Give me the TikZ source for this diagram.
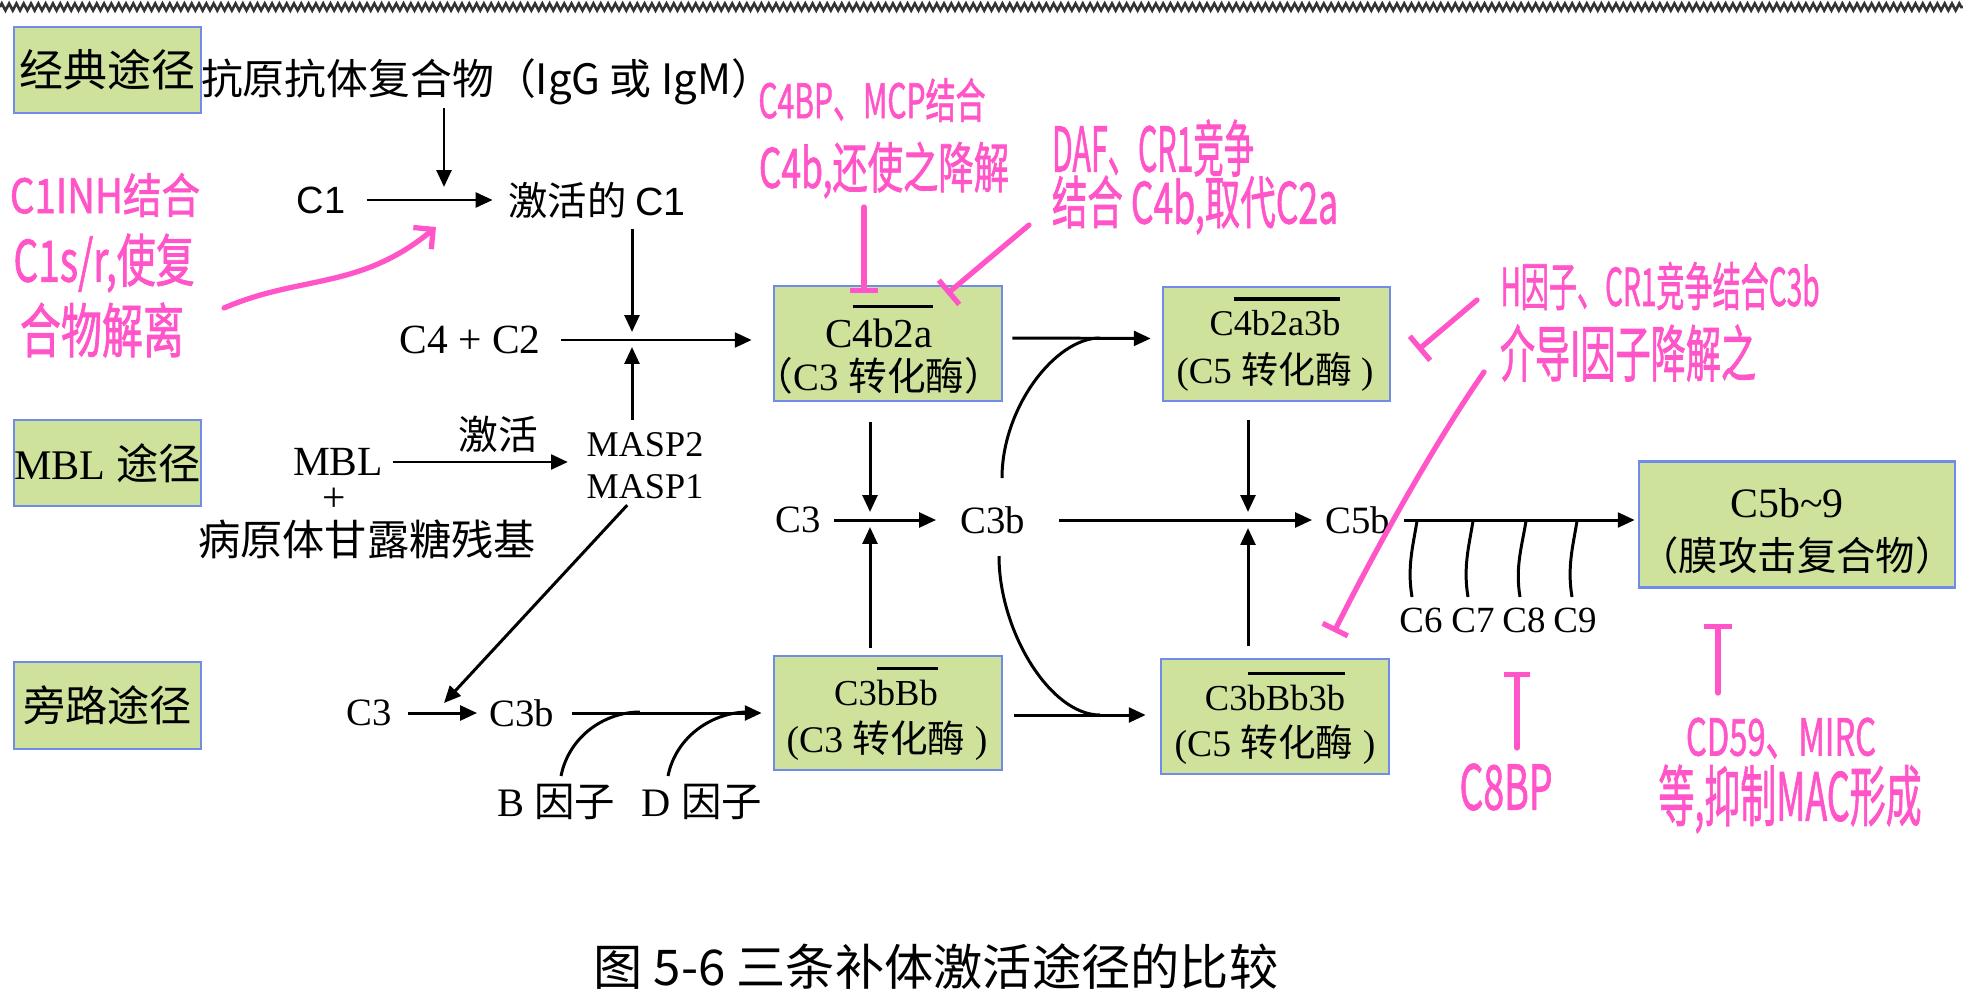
\documentclass[tikz,border=0pt]{standalone}
\usepackage{fontspec}
\usepackage{graphicx}
\setmainfont{Liberation Serif}
\newfontfamily\cjk{Noto Sans CJK SC}
\newfontfamily\hand[FakeBold=1.5]{Noto Sans CJK SC}
\newfontfamily\arial{Liberation Sans}
\usetikzlibrary{arrows.meta,decorations.pathmorphing}
\definecolor{boxgreen}{RGB}{206,226,156}
\definecolor{boxblue}{RGB}{112,140,232}
\definecolor{pinkhw}{RGB}{255,85,200}
\newsavebox\ovbox
\newcommand\ovl[1]{\sbox\ovbox{#1}\rlap{\rule[0.95em]{\wd\ovbox}{0.9pt}}\usebox\ovbox}
\newcommand\zh[1]{{\cjk #1}}
\newcommand\fs[1]{\fontsize{#1}{#1}\selectfont}
\newcommand\hw[3]{\resizebox{#1}{#2}{\hand #3}}
\begin{document}
\begin{tikzpicture}[x=0.01cm,y=-0.01cm,
  pbox/.style={draw=boxblue, fill=boxgreen, line width=0.7pt, inner sep=0pt},
  lbl/.style={inner sep=0pt},
  arr/.style={line width=0.85pt, -{Triangle[length=4.8pt,width=4.2pt]}},
  ln/.style={line width=0.85pt},
  pk/.style={draw=pinkhw, line width=1.5pt, line cap=round},
  pkbar/.style={pk, -{Bar[width=8pt]}},
  hwn/.style={inner sep=0pt, text=pinkhw},
  zz/.style={decorate, decoration={zigzag, segment length=0.073cm, amplitude=0.035cm}, line width=0.75pt, black!80}]
\fill[white] (0,0) rectangle (1963,1000);
\useasboundingbox (0,0) rectangle (1963,1000);
\draw[zz] (0,7) -- (1963,7);

% pathway boxes
\node[pbox, minimum width=1.87cm, minimum height=0.86cm] (p1) at (107.5,70) {\fs{12.5}\cjk 经典途径};
\node[pbox, minimum width=1.87cm, minimum height=0.86cm] (p2) at (107.5,463) {\fs{12}MBL \zh{途径}};
\node[pbox, minimum width=1.87cm, minimum height=0.87cm] (p3) at (107.5,705.5) {\fs{12}\cjk 旁路途径};

% enzyme boxes
\node[pbox, minimum width=2.28cm, minimum height=1.15cm] (b1) at (888,343.5) {};
\node[pbox, minimum width=2.27cm, minimum height=1.14cm] (b2) at (1276.5,344) {};
\node[pbox, minimum width=2.28cm, minimum height=1.14cm] (b3) at (888,713) {};
\node[pbox, minimum width=2.28cm, minimum height=1.15cm] (b4) at (1275,716.5) {};
\node[pbox, minimum width=3.16cm, minimum height=1.26cm] (b5) at (1797,524.5) {};

\node[lbl, anchor=base, font=\fs{11.7}] (b1a) at (879,347) {C\ovl{4b2a}};
\node[lbl, anchor=base, font=\fs{11}] (b1b) at (879,390) {\zh{（}C3 \zh{转化酶）}};
\node[lbl, anchor=base, font=\fs{10.3}] (b2a) at (1275,335) {C\ovl{4b2a3b}};
\node[lbl, anchor=base, font=\fs{10.5}] (b2b) at (1275,383) {(C5 \zh{转化酶} )};
\node[lbl, anchor=base, font=\fs{10.4}] (b3a) at (886,705) {C3\ovl{bBb}};
\node[lbl, anchor=base, font=\fs{10.7}] (b3b) at (887,752) {(C3 \zh{转化酶} )};
\node[lbl, anchor=base, font=\fs{10.4}] (b4a) at (1275,710) {C3\ovl{bBb3b}};
\node[lbl, anchor=base, font=\fs{10.7}] (b4b) at (1275,756) {(C5 \zh{转化酶} )};
\node[lbl, anchor=base, font=\fs{11.9}] (b5a) at (1787,517) {C5b\textasciitilde 9};
\node[lbl, anchor=base, font=\fs{11.2}] (b5b) at (1797,570) {\zh{（膜攻击复合物）}};

% labels
\node[lbl, font=\fs{11.9}\cjk] (ag) at (487,82) {抗原抗体复合物（IgG 或 IgM）};
\node[lbl, font=\fs{10.8}\arial] (c1) at (321,200) {C1};
\node[lbl, font=\fs{11.2}] (ac1) at (597,200) {\zh{激活的 }{\arial C1}};
\node[lbl, font=\fs{11.8}] (c4c2) at (470,340) {C4 + C2};
\node[lbl, font=\fs{11.8}] (mbl) at (338,462) {MBL};
\node[lbl, font=\fs{11.8}] (plus) at (334,500) {+};
\node[lbl, font=\fs{12}\cjk] (pg) at (367,539) {病原体甘露糖残基};
\node[lbl, font=\fs{11.3}\cjk] (jh) at (498,434) {激活};
\node[lbl, align=center, font=\fontsize{10.3}{12}\selectfont] (masp) at (645,466) {MASP2\\MASP1};
\node[lbl, font=\fs{11}] (c3L) at (369,713) {C3};
\node[lbl, font=\fs{11}] (c3bL) at (522,713) {C3b};
\node[lbl, font=\fs{11.5}] (bfac) at (556,802) {B \zh{因子}};
\node[lbl, font=\fs{11.5}] (dfac) at (702,802) {D \zh{因子}};
\node[lbl, font=\fs{11}] (c3M) at (798,520) {C3};
\node[lbl, font=\fs{11}] (c3bM) at (993,520) {C3b};
\node[lbl, font=\fs{11}] (c5b) at (1358,520) {C5b};
\node[lbl, font=\fs{10.5}] (c6) at (1421,620) {C6};
\node[lbl, font=\fs{10.5}] (c7) at (1473,620) {C7};
\node[lbl, font=\fs{10.5}] (c8) at (1524,620) {C8};
\node[lbl, font=\fs{10.5}] (c9) at (1575,620) {C9};
\node[lbl, font=\fs{14}\cjk] (cap) at (936,967) {图 5-6 三条补体激活途径的比较};

% junction coordinates
\coordinate (j1) at (444,187);
\coordinate (j2) at (632,332);
\coordinate (j3) at (632,347);
\coordinate (j4) at (444,703);
\coordinate (j5) at (870,512);
\coordinate (j6) at (870,527);
\coordinate (j7) at (1248,512);
\coordinate (j8) at (1248,528);

% black arrows
\draw[arr, shorten <=0.02cm] (ag.south -| j1) -- (j1);
\draw[arr, shorten <=0.21cm, shorten >=0.15cm] (c1) -- (ac1);
\draw[arr, shorten <=0.1cm] (ac1.south -| j2) -- (j2);
\draw[arr, shorten <=0.2cm, shorten >=0.21cm] (c4c2.east) -- (c4c2.east -| b1.west);
\draw[arr, shorten <=0.12cm] (masp.north -| j3) -- (j3);
\draw[arr, shorten <=0.09cm, shorten >=0.18cm] (mbl.east) -- (mbl.east -| masp.west);
\draw[arr, shorten <=0.07cm] (masp.south -| j2) -- (j4);
\draw[arr, shorten <=0.16cm, shorten >=0.12cm] (c3L) -- (c3bL);
\draw[arr, shorten <=0.17cm, shorten >=0.11cm] (c3bL.east) -- (c3bL.east -| b3.west);
\draw[arr, shorten <=0.2cm] (b1.south -| j5) -- (j5);
\draw[arr, shorten <=0.07cm] (b3.north -| j6) -- (j6);
\draw[arr, shorten <=0.13cm, shorten >=0.24cm] (c3M) -- (c3bM);
\draw[arr, shorten <=0.09cm, shorten >=0.11cm] ([yshift=0.055cm]b1.east) -- ([yshift=0.055cm]b2.west);
\draw[arr, shorten <=0.11cm, shorten >=0.14cm] ([yshift=-0.02cm]b3.east) -- ([yshift=-0.02cm]b3.east -| b4.west);
\draw[arr, shorten <=0.33cm, shorten >=0.13cm] (c3bM) -- (c5b);
\draw[arr, shorten <=0.18cm] (b2.south -| j7) -- (j7);
\draw[arr, shorten <=0.12cm] (b4.north -| j8) -- (j8);
\draw[arr, shorten <=0.13cm, shorten >=0.03cm] (c5b.east) -- (c5b.east -| b5.west);

% joining curves
\coordinate (cub) at (1002,478); \coordinate (cut) at (1100,338);
\coordinate (clb) at (999,556);  \coordinate (clt) at (1100,715);
\draw[ln] (cub) .. controls +(0,-70) and +(-45,0) .. (cut);
\draw[ln] (clb) .. controls +(0,75) and +(-50,0) .. (clt);
\coordinate (bb) at (561,776); \coordinate (bt) at (640,712);
\coordinate (db) at (668,776); \coordinate (dt) at (748,712);
\draw[ln] (bb) .. controls +(8,-40) and +(-35,0) .. (bt);
\draw[ln] (db) .. controls +(8,-40) and +(-35,0) .. (dt);
\coordinate (k6b) at (1412,597); \coordinate (k6t) at (1417,521);
\coordinate (k7b) at (1468,597); \coordinate (k7t) at (1473,521);
\coordinate (k8b) at (1520,597); \coordinate (k8t) at (1526,521);
\coordinate (k9b) at (1572,597); \coordinate (k9t) at (1577,521);
\foreach \k in {6,7,8,9} {
  \draw[ln] (k\k b) .. controls +(-5,-30) and +(-4,25) .. (k\k t);
}

% pink handwriting
\node[hwn] (a1a) at (105,195) {\hw{1.90cm}{0.40cm}{C1INH结合}};
\node[hwn] (a1b) at (104,263) {\hw{1.81cm}{0.48cm}{C1s/r,使复}};
\node[hwn] (a1c) at (102,330) {\hw{1.64cm}{0.50cm}{合物解离}};
\node[hwn] (a2a) at (872,100) {\hw{2.27cm}{0.40cm}{C4BP、MCP结合}};
\node[hwn] (a2b) at (884,170) {\hw{2.50cm}{0.46cm}{C4b,还使之降解}};
\node[hwn] (a3a) at (1153,148) {\hw{2.02cm}{0.52cm}{DAF、CR1竞争}};
\node[hwn] (a3b) at (1195,205) {\hw{2.86cm}{0.48cm}{结合 C4b,取代C2a}};
\node[hwn] (a4a) at (1660,286) {\hw{3.19cm}{0.44cm}{H因子、CR1竞争结合C3b}};
\node[hwn] (a4b) at (1628,353) {\hw{2.56cm}{0.52cm}{介导I因子降解之}};
\node[hwn] (a5) at (1506,787) {\hw{0.93cm}{0.46cm}{C8BP}};
\node[hwn] (a6a) at (1781,738) {\hw{1.90cm}{0.38cm}{CD59、MIRC}};
\node[hwn] (a6b) at (1790,799) {\hw{2.63cm}{0.56cm}{等,抑制MAC形成}};

% pink lines
\coordinate (p1s) at (224,308); \coordinate (p1e) at (436,227);
\coordinate (p2s) at (864,207); \coordinate (p2e) at (864,293);
\coordinate (p3s) at (1029,225); \coordinate (p3e) at (947,294);
\coordinate (p4s) at (1477,300); \coordinate (p4e) at (1418,350);
\coordinate (p5s) at (1484,372); \coordinate (p5e) at (1334,632);
\coordinate (p6s) at (1517,748); \coordinate (p6e) at (1517,672);
\coordinate (p7s) at (1718,693); \coordinate (p7e) at (1718,624);
\draw[pk, -{Straight Barb[length=4pt,width=8pt]}] (p1s) .. controls +(76,-33) and +(-76,63) .. (p1e);
\draw[pkbar] (p2s) -- (p2e);
\draw[pk, -{Bar[width=9pt]}] (p3s) -- (p3e);
\draw[pk, -{Bar[width=9pt]}] (p4s) -- (p4e);
\draw[pk, -{Bar[width=8pt]}] (p5s) .. controls +(-54,78) and +(36,-72) .. (p5e);
\draw[pk, -{Bar[width=7.5pt]}] (p6s) -- (p6e);
\draw[pkbar] (p7s) -- (p7e);
\end{tikzpicture}
\end{document}
